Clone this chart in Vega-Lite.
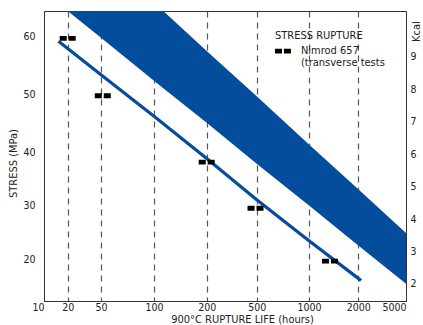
{
  "$schema": "https://vega.github.io/schema/vega-lite/v6.json",
  "width": 362,
  "height": 290,
  "autosize": {"type": "none"},
  "padding": {"left": 44, "top": 11, "right": 17, "bottom": 24},
  "background": "white",
  "config": {
    "view": {"stroke": "#333", "strokeWidth": 1},
    "font": "Liberation Sans Narrow, DejaVu Sans Condensed, sans-serif",
    "axis": {
      "labelFont": "Liberation Sans Narrow, DejaVu Sans Condensed, sans-serif",
      "titleFont": "Liberation Sans Narrow, DejaVu Sans Condensed, sans-serif",
      "labelFontSize": 10.5,
      "titleFontSize": 11,
      "titleFontWeight": "normal",
      "labelColor": "#222",
      "titleColor": "#222",
      "domainColor": "#333",
      "ticks": false,
      "grid": false
    }
  },
  "datasets": {
    "band": [
      {"life": 20, "low": 64.3, "high": 64.3},
      {"life": 50, "low": 59.7, "high": 64.3},
      {"life": 100, "low": 52.3, "high": 64.3},
      {"life": 117.6, "low": 51.0, "high": 64.3},
      {"life": 200, "low": 45.1, "high": 57.4},
      {"life": 500, "low": 37.9, "high": 49.6},
      {"life": 1000, "low": 29.9, "high": 41.4},
      {"life": 2000, "low": 22.5, "high": 33.0},
      {"life": 5000, "low": 15.4, "high": 24.8}
    ],
    "curve": [
      {"life": 16.1, "stress": 59.1},
      {"life": 50, "stress": 53.3},
      {"life": 100, "stress": 46.2},
      {"life": 200, "stress": 38.9},
      {"life": 500, "stress": 31.0},
      {"life": 1000, "stress": 23.4},
      {"life": 2000, "stress": 16.4},
      {"life": 2170, "stress": 16.0}
    ],
    "tests": [
      {"life": 20, "stress": 59.6},
      {"life": 51.7, "stress": 49.7},
      {"life": 200, "stress": 38.2},
      {"life": 493, "stress": 29.4},
      {"life": 1426, "stress": 19.6},
      {"life": 751, "stress": 57.4}
    ],
    "notes": [
      {"life": 675, "stress": 60, "label": "STRESS RUPTURE"},
      {"life": 923, "stress": 57.4, "label": "Nimrod 657"},
      {"life": 923, "stress": 55.3, "label": "(transverse tests"}
    ],
    "kcal": [{"kcal": 2}, {"kcal": 9}]
  },
  "resolve": {"scale": {"y": "independent"}},
  "layer": [
    {
      "layer": [
        {
          "data": {"name": "band"},
          "mark": {"type": "area", "color": "#044c9c", "clip": true},
          "encoding": {
            "x": {
              "field": "life", "type": "quantitative",
              "scale": {"type": "linear", "domain": [10, 20, 50, 100, 200, 500, 1000, 2000, 5000], "range": [0, 23.7, 57, 110, 162.7, 212.7, 265, 314.3, 362], "zero": false, "nice": false},
              "axis": {
                "values": [10, 20, 50, 100, 200, 500, 1000, 2000, 5000],
                "format": "d",
                "title": "900°C RUPTURE LIFE (hours)",
                "labelFlush": false,
                "labelPadding": 1,
                "labelAlign": {"condition": {"test": "datum.value == 10 || datum.value == 5000", "value": "right"}, "value": "center"},
                "grid": true,
                "gridDash": [6, 5],
                "gridColor": "#555",
                "gridWidth": 1.2,
                "gridOpacity": {"condition": {"test": "datum.value == 10 || datum.value == 5000", "value": 0}, "value": 1},
                "titleX": 198,
                "titleY": 18,
                "titleAlign": "center",
                "titleBaseline": "middle"
              }
            },
            "y": {
              "field": "low", "type": "quantitative",
              "scale": {"type": "linear", "domain": [12.2, 20, 30, 40, 50, 60, 64.3], "range": [290, 248, 194, 141.7, 83, 25, 0], "zero": false, "nice": false},
              "axis": {
                "values": [20, 30, 40, 50, 60],
                "title": "STRESS (MPa)",
                "labelPadding": 9,
                "titleX": -31,
                "titleY": 152,
                "titleAngle": 270,
                "titleAlign": "center",
                "titleBaseline": "middle"
              }
            },
            "y2": {"field": "high"}
          }
        },
        {
          "data": {"name": "curve"},
          "mark": {"type": "line", "color": "#044c9c", "strokeWidth": 3.2},
          "encoding": {
            "x": {"field": "life", "type": "quantitative"},
            "y": {"field": "stress", "type": "quantitative"}
          }
        },
        {
          "data": {"name": "tests"},
          "mark": {"type": "point", "shape": "M-1,-0.3H-0.12V0.3H-1Z M0.12,-0.3H1V0.3H0.12Z", "filled": true, "color": "#000", "opacity": 1, "size": 256, "strokeWidth": 0},
          "encoding": {
            "x": {"field": "life", "type": "quantitative"},
            "y": {"field": "stress", "type": "quantitative"}
          }
        },
        {
          "data": {"name": "notes"},
          "mark": {"type": "text", "align": "left", "baseline": "middle", "fontSize": 11, "color": "#222", "font": "Liberation Sans Narrow, DejaVu Sans Condensed, sans-serif"},
          "encoding": {
            "x": {"field": "life", "type": "quantitative"},
            "y": {"field": "stress", "type": "quantitative"},
            "text": {"field": "label"}
          }
        }
      ]
    },
    {
      "data": {"name": "kcal"},
      "mark": {"type": "point", "opacity": 0},
      "encoding": {
        "y": {
          "field": "kcal", "type": "quantitative",
          "scale": {"domain": [1.476, 10.407], "zero": false, "nice": false},
          "axis": {
            "orient": "right",
            "values": [2, 3, 4, 5, 6, 7, 8, 9],
            "title": "Kcal",
            "labelPadding": 4,
            "domain": false,
            "titleX": 10,
            "titleY": 20,
            "titleAngle": 270,
            "titleAlign": "center",
            "titleBaseline": "middle"
          }
        }
      }
    }
  ]
}
